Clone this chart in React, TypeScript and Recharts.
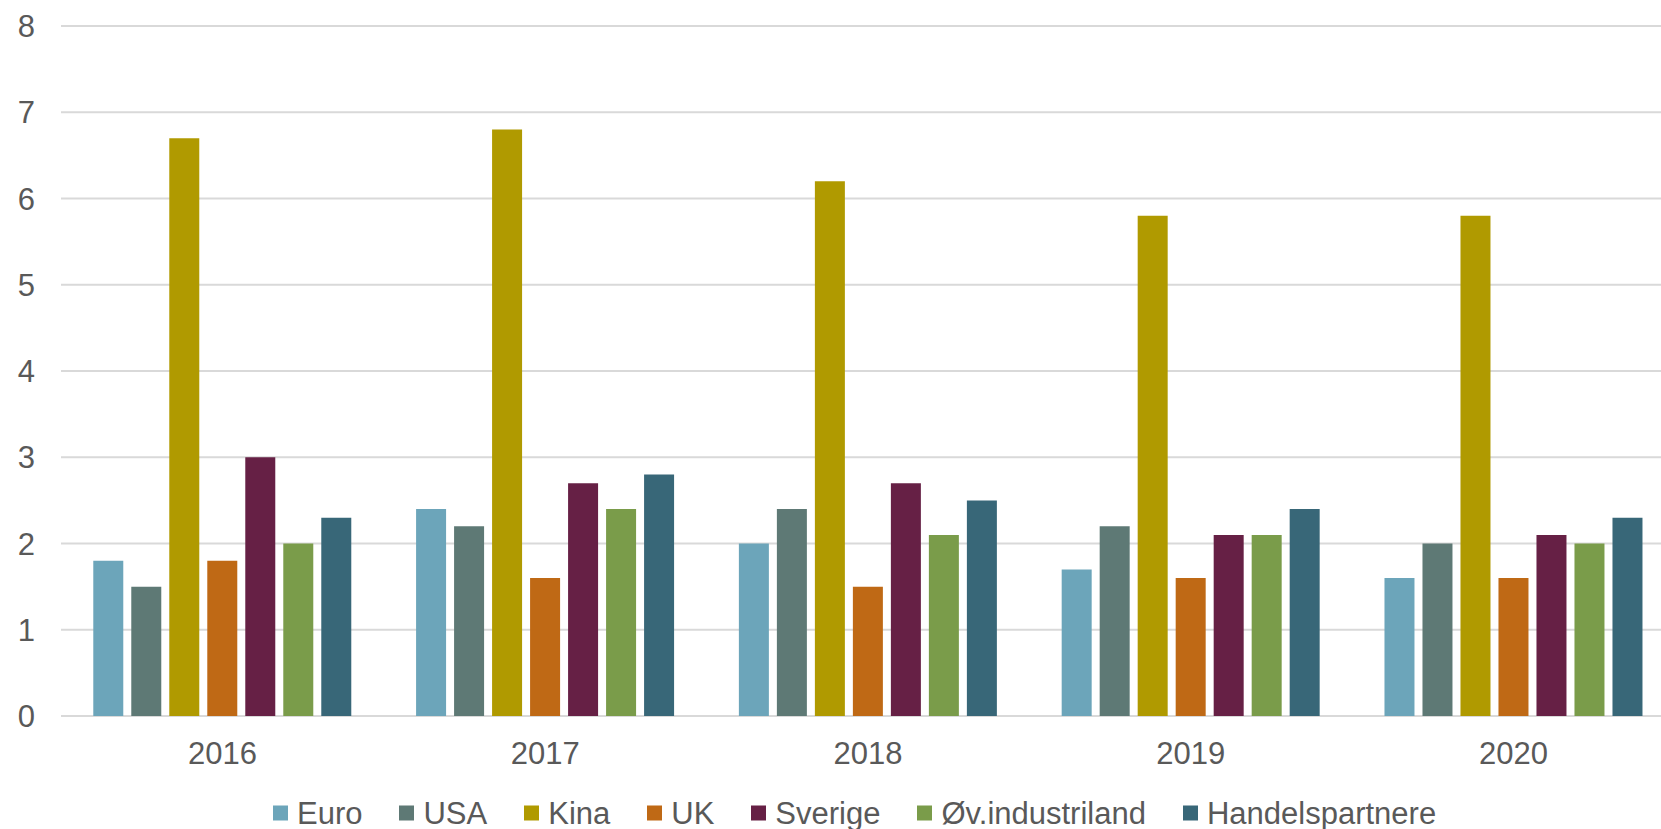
import React from "react";
import { BarChart, Bar, XAxis, YAxis, CartesianGrid } from "recharts";

const years = ["2016", "2017", "2018", "2019", "2020"];
const euro = [1.8, 2.4, 2.0, 1.7, 1.6];
const usa = [1.5, 2.2, 2.4, 2.2, 2.0];
const kina = [6.7, 6.8, 6.2, 5.8, 5.8];
const uk = [1.8, 1.6, 1.5, 1.6, 1.6];
const sverige = [3.0, 2.7, 2.7, 2.1, 2.1];
const ovIndustriland = [2.0, 2.4, 2.1, 2.1, 2.0];
const handelspartnere = [2.3, 2.8, 2.5, 2.4, 2.3];
const yTicks = [0, 1, 2, 3, 4, 5, 6, 7, 8];

const series = [
  { key: "euro", name: "Euro", color: "#6CA5BA", values: euro },
  { key: "usa", name: "USA", color: "#5E7975", values: usa },
  { key: "kina", name: "Kina", color: "#B09A00", values: kina },
  { key: "uk", name: "UK", color: "#BF6915", values: uk },
  { key: "sverige", name: "Sverige", color: "#662045", values: sverige },
  { key: "ov", name: "Øv.industriland", color: "#7A9C4A", values: ovIndustriland },
  { key: "handel", name: "Handelspartnere", color: "#386778", values: handelspartnere },
];

const data = years.map((year, i) => {
  const row: Record<string, string | number> = { year };
  series.forEach((s) => {
    row[s.key] = s.values[i];
  });
  return row;
});

const FONT = "'Liberation Sans', Arial, sans-serif";
const TEXT = "#595959";

export default function App() {
  return (
    <div
      style={{
        position: "fixed",
        left: 0,
        top: 0,
        width: 1661,
        height: 829,
        overflow: "hidden",
        background: "#fff",
        fontFamily: FONT,
      }}
    >
      <BarChart
        width={1690}
        height={829}
        data={data}
        margin={{ top: 26, right: 15, left: 0, bottom: 53 }}
        barCategoryGap="10%"
        barGap={8}
      >
        <CartesianGrid vertical={false} stroke="#D9D9D9" strokeWidth={2} />
        <XAxis
          dataKey="year"
          axisLine={false}
          tickLine={false}
          height={60}
          tickMargin={20}
          tick={{ fontSize: 31, fill: TEXT, fontFamily: FONT }}
        />
        <YAxis
          domain={[0, 8]}
          ticks={yTicks}
          width={61}
          axisLine={false}
          tickLine={false}
          tickMargin={20}
          tick={{ fontSize: 31, fill: TEXT, fontFamily: FONT }}
        />
        {series.map((s) => (
          <Bar
            key={s.key}
            dataKey={s.key}
            name={s.name}
            fill={s.color}
            isAnimationActive={false}
          />
        ))}
      </BarChart>
      <div
        style={{
          position: "absolute",
          left: 273,
          top: 813,
          transform: "translateY(-50%)",
          display: "flex",
          alignItems: "center",
          gap: 37,
          fontSize: 31,
          color: TEXT,
          whiteSpace: "nowrap",
          lineHeight: 1,
        }}
      >
        {series.map((s) => (
          <div key={s.key} style={{ display: "flex", alignItems: "center", gap: 9 }}>
            <span style={{ width: 15, height: 15, background: s.color, display: "inline-block" }} />
            <span>{s.name}</span>
          </div>
        ))}
      </div>
    </div>
  );
}
